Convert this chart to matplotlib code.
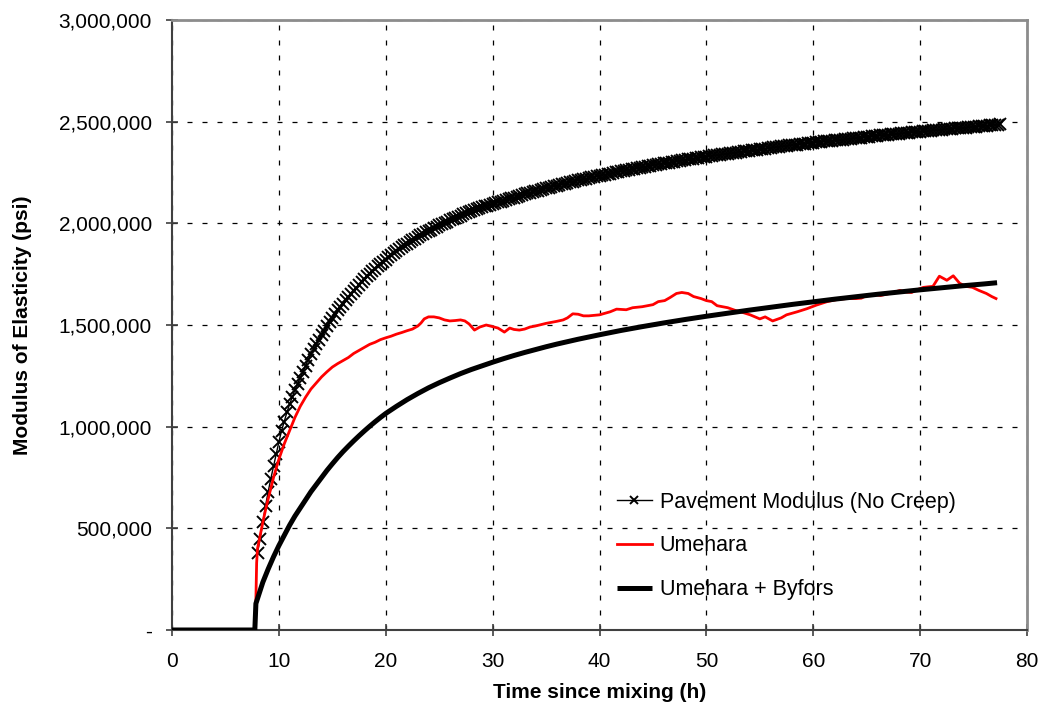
import matplotlib
matplotlib.use("Agg")
import matplotlib.pyplot as plt
from matplotlib.ticker import FuncFormatter

plt.rcParams['font.family'] = ['Liberation Sans', 'DejaVu Sans']

# ---- Data (time in hours, modulus in thousands of psi) ----
pave_t = [8.0, 8.25, 8.5, 8.75, 9.0, 9.25, 9.5, 9.75, 10.0, 10.25, 10.5, 10.75,
          11.0, 11.25, 11.5, 11.75, 12.0, 12.25, 12.5, 12.75, 13.0, 13.25, 13.5, 13.75,
          14.0, 14.25, 14.5, 14.75, 15.0, 15.25, 15.5, 15.75, 16.0, 16.25, 16.5, 16.75,
          17.0, 17.25, 17.5, 17.75, 18.0, 18.25, 18.5, 18.75, 19.0, 19.25, 19.5, 19.75,
          20.0, 20.25, 20.5, 20.75, 21.0, 21.25, 21.5, 21.75, 22.0, 22.25, 22.5, 22.75,
          23.0, 23.25, 23.5, 23.75, 24.0, 24.25, 24.5, 24.75, 25.0, 25.25, 25.5, 25.75,
          26.0, 26.25, 26.5, 26.75, 27.0, 27.25, 27.5, 27.75, 28.0, 28.25, 28.5, 28.75,
          29.0, 29.25, 29.5, 29.75, 30.0, 30.25, 30.5, 30.75, 31.0, 31.25, 31.5, 31.75,
          32.0, 32.25, 32.5, 32.75, 33.0, 33.25, 33.5, 33.75, 34.0, 34.25, 34.5, 34.75,
          35.0, 35.25, 35.5, 35.75, 36.0, 36.25, 36.5, 36.75, 37.0, 37.25, 37.5, 37.75,
          38.0, 38.25, 38.5, 38.75, 39.0, 39.25, 39.5, 39.75, 40.0, 40.25, 40.5, 40.75,
          41.0, 41.25, 41.5, 41.75, 42.0, 42.25, 42.5, 42.75, 43.0, 43.25, 43.5, 43.75,
          44.0, 44.25, 44.5, 44.75, 45.0, 45.25, 45.5, 45.75, 46.0, 46.25, 46.5, 46.75,
          47.0, 47.25, 47.5, 47.75, 48.0, 48.25, 48.5, 48.75, 49.0, 49.25, 49.5, 49.75,
          50.0, 50.25, 50.5, 50.75, 51.0, 51.25, 51.5, 51.75, 52.0, 52.25, 52.5, 52.75,
          53.0, 53.25, 53.5, 53.75, 54.0, 54.25, 54.5, 54.75, 55.0, 55.25, 55.5, 55.75,
          56.0, 56.25, 56.5, 56.75, 57.0, 57.25, 57.5, 57.75, 58.0, 58.25, 58.5, 58.75,
          59.0, 59.25, 59.5, 59.75, 60.0, 60.25, 60.5, 60.75, 61.0, 61.25, 61.5, 61.75,
          62.0, 62.25, 62.5, 62.75, 63.0, 63.25, 63.5, 63.75, 64.0, 64.25, 64.5, 64.75,
          65.0, 65.25, 65.5, 65.75, 66.0, 66.25, 66.5, 66.75, 67.0, 67.25, 67.5, 67.75,
          68.0, 68.25, 68.5, 68.75, 69.0, 69.25, 69.5, 69.75, 70.0, 70.25, 70.5, 70.75,
          71.0, 71.25, 71.5, 71.75, 72.0, 72.25, 72.5, 72.75, 73.0, 73.25, 73.5, 73.75,
          74.0, 74.25, 74.5, 74.75, 75.0, 75.25, 75.5, 75.75, 76.0, 76.25, 76.5, 76.75,
          77.0, 77.25, 77.5]
pave_k = [380, 450, 530, 610, 680, 745, 805, 865, 925, 980, 1025, 1070,
          1110, 1145, 1180, 1210, 1240, 1270, 1300, 1330, 1355, 1380, 1405, 1428,
          1450, 1472, 1495, 1515, 1535, 1554, 1572, 1589, 1605, 1621, 1637, 1653,
          1668, 1683, 1697, 1711, 1725, 1739, 1752, 1765, 1777, 1789, 1800, 1811,
          1822, 1833, 1843, 1853, 1863, 1873, 1882, 1891, 1900, 1909, 1917, 1925,
          1933, 1941, 1948, 1955, 1962, 1969, 1976, 1983, 1990, 1997, 2003, 2009,
          2015, 2021, 2027, 2033, 2038, 2044, 2049, 2054, 2059, 2064, 2069, 2074,
          2078, 2083, 2087, 2091, 2095, 2099, 2103, 2107, 2111, 2115, 2119, 2123,
          2127, 2131, 2135, 2139, 2143, 2147, 2150, 2154, 2158, 2161, 2165, 2168,
          2172, 2175, 2179, 2182, 2185, 2188, 2192, 2195, 2198, 2201, 2204, 2208,
          2211, 2214, 2217, 2220, 2223, 2226, 2229, 2232, 2235, 2238, 2240, 2243,
          2245, 2248, 2251, 2253, 2256, 2258, 2261, 2264, 2266, 2269, 2271, 2274,
          2276, 2279, 2282, 2284, 2287, 2289, 2291, 2293, 2295, 2297, 2299, 2301,
          2303, 2305, 2308, 2310, 2312, 2314, 2316, 2318, 2320, 2322, 2324, 2326,
          2328, 2330, 2332, 2334, 2335, 2337, 2339, 2341, 2343, 2345, 2346, 2348,
          2350, 2352, 2354, 2356, 2357, 2359, 2361, 2363, 2365, 2367, 2368, 2370,
          2371, 2373, 2375, 2376, 2378, 2379, 2381, 2383, 2384, 2386, 2387, 2389,
          2391, 2392, 2394, 2395, 2397, 2398, 2400, 2401, 2403, 2404, 2405, 2407,
          2408, 2410, 2411, 2412, 2414, 2415, 2417, 2418, 2419, 2421, 2422, 2424,
          2425, 2426, 2428, 2429, 2430, 2432, 2433, 2434, 2436, 2437, 2438, 2439,
          2441, 2442, 2443, 2445, 2446, 2447, 2449, 2450, 2451, 2452, 2453, 2455,
          2456, 2457, 2458, 2459, 2461, 2462, 2463, 2464, 2465, 2467, 2468, 2469,
          2470, 2471, 2473, 2474, 2475, 2476, 2477, 2479, 2480, 2481, 2482, 2483,
          2485, 2486, 2487]

ume_t = [0.0, 7.75, 7.85, 7.92, 8.0, 8.25, 8.5, 8.75, 9.0, 9.5, 10.0, 10.5, 11.0, 11.5,
         12.0, 12.5, 13.0, 13.5, 14.0, 14.5, 15.0, 15.5, 16.0, 16.5, 17.0, 17.5, 18.0,
         18.5, 19.0, 19.5, 20.0, 20.5, 21.0, 21.5, 22.0, 22.5, 23.0, 23.3, 23.6, 24.0,
         24.5, 25.0, 25.5, 26.0, 26.5, 27.0, 27.4, 27.8, 28.3, 28.8, 29.4, 30.0, 30.5,
         31.1, 31.6, 32.0, 32.5, 33.0, 33.5, 34.0, 35.0, 36.0, 36.6, 37.0, 37.5, 38.0,
         38.5, 39.0, 40.0, 41.0, 41.6, 42.5, 43.1, 44.0, 45.0, 45.5, 46.1, 46.6, 47.2,
         47.7, 48.3, 48.8, 49.5, 50.0, 50.5, 51.0, 52.0, 52.8, 53.5, 54.1, 55.0, 55.5,
         56.2, 57.0, 57.5, 58.5, 59.4, 60.3, 61.3, 62.2, 63.1, 64.0, 64.5, 65.0, 65.6,
         66.3, 66.9, 67.5, 68.1, 68.7, 69.2, 69.8, 70.3, 70.8, 71.2, 71.8, 72.5, 73.1,
         73.7, 74.3, 74.9, 75.5, 76.2, 76.7, 77.1]
ume_k = [0, 0, 150, 330, 400, 465, 530, 590, 645, 750, 840,
         915, 980, 1045, 1100, 1145, 1185, 1215, 1245, 1270,
         1293, 1310, 1325, 1340, 1360, 1375, 1390, 1405, 1415,
         1428, 1437, 1445, 1455, 1463, 1472, 1480, 1495, 1510,
         1530, 1540, 1540, 1535, 1525, 1520, 1522, 1525, 1520,
         1505, 1475, 1490, 1500, 1492, 1485, 1465, 1485, 1478,
         1475, 1480, 1490, 1495, 1508, 1518, 1525, 1535, 1555,
         1553, 1545, 1545, 1550, 1565, 1578, 1575, 1585, 1590,
         1600, 1615, 1620, 1635, 1655, 1660, 1655, 1640, 1630,
         1620, 1615, 1595, 1585, 1570, 1560, 1550, 1530, 1540,
         1520, 1535, 1550, 1565, 1580, 1598, 1615, 1625, 1630,
         1630, 1632, 1645, 1650, 1645, 1652, 1660, 1670, 1662,
         1660, 1675, 1685, 1688, 1690, 1740, 1720, 1742, 1705,
         1690, 1685, 1670, 1655, 1640, 1630]

byf_t = [0.0, 7.75, 7.85, 8.5, 9.0, 9.5, 10.0, 10.5, 11.0, 11.5, 12.0, 12.5, 13.0,
         13.5, 14.0, 14.5, 15.0, 15.5, 16.0, 16.5, 17.0, 17.5, 18.0, 18.5, 19.0, 19.5,
         20.0, 21.0, 22.0, 23.0, 24.0, 25.0, 26.0, 27.0, 28.0, 29.0, 30.0, 31.0, 32.0,
         33.0, 34.0, 35.0, 36.0, 37.0, 38.0, 39.0, 40.0, 42.0, 44.0, 46.0, 48.0, 50.0,
         52.0, 54.0, 56.0, 58.0, 60.0, 62.0, 64.0, 66.0, 68.0, 70.0, 72.0, 74.0, 76.0, 77.2]
byf_k = [0, 0, 130, 235, 300, 360, 415, 465, 515, 560, 600,
         640, 680, 715, 750, 785, 817, 848, 877, 904, 930,
         955, 979, 1002, 1024, 1045, 1065, 1100, 1133, 1163,
         1191, 1216, 1239, 1261, 1281, 1299, 1317, 1334, 1350,
         1365, 1379, 1393, 1406, 1418, 1430, 1441, 1452, 1473,
         1492, 1510, 1527, 1543, 1558, 1573, 1587, 1601, 1614,
         1627, 1639, 1651, 1662, 1673, 1683, 1693, 1702, 1708]

x_ticks = [0, 10, 20, 30, 40, 50, 60, 70, 80]
y_ticks = [0, 500000, 1000000, 1500000, 2000000, 2500000, 3000000]

pave_e = [v * 1000 for v in pave_k]
ume_e = [v * 1000 for v in ume_k]
byf_e = [v * 1000 for v in byf_k]

# ---- Figure ----
fig = plt.figure(figsize=(10.43, 7.09), dpi=100)
ax = fig.add_axes([172 / 1043, 79 / 709, 855 / 1043, 610 / 709])

ax.plot(pave_t, pave_e, color='black', lw=1.0, marker='x', markersize=9,
        markeredgewidth=1.4, label='Pavement Modulus (No Creep)', zorder=3)
ax.plot(ume_t, ume_e, color='#ff0000', lw=2.0, label='Umehara', zorder=4)
ax.plot(byf_t, byf_e, color='black', lw=3.6, label='Umehara + Byfors', zorder=5,
        solid_capstyle='butt')

ax.set_xlim(0, 80)
ax.set_ylim(0, 3000000)
ax.set_xticks(x_ticks)
ax.set_yticks(y_ticks)


def yfmt(v, pos):
    if v == 0:
        return '-'
    return f'{int(v):,}'


ax.yaxis.set_major_formatter(FuncFormatter(yfmt))

ax.grid(True, which='major', color='black', linestyle=(0, (4, 8)), linewidth=0.9)
ax.set_axisbelow(True)

for side in ['left', 'bottom']:
    ax.spines[side].set_color('#404040')
    ax.spines[side].set_linewidth(1.5)
for side in ['top', 'right']:
    ax.spines[side].set_color('#8c8c8c')
    ax.spines[side].set_linewidth(2.0)

ax.tick_params(axis='both', direction='inout', length=9, width=1.2, color='#404040',
               labelsize=15, labelcolor='black')
ax.tick_params(axis='x', pad=11)
ax.tick_params(axis='y', pad=10)

ax.set_xlabel('Time since mixing (h)', fontsize=15, fontweight='bold', labelpad=9)
ax.set_ylabel('Modulus of Elasticity (psi)', fontsize=15, fontweight='bold', labelpad=19)

leg = ax.legend(loc='lower left', bbox_to_anchor=(0.51, 0.035), frameon=False,
                fontsize=15.5, labelspacing=1.05, handlelength=1.65, handletextpad=0.35,
                borderaxespad=0, markerscale=0.7)

fig.savefig('out.png', dpi=100)
